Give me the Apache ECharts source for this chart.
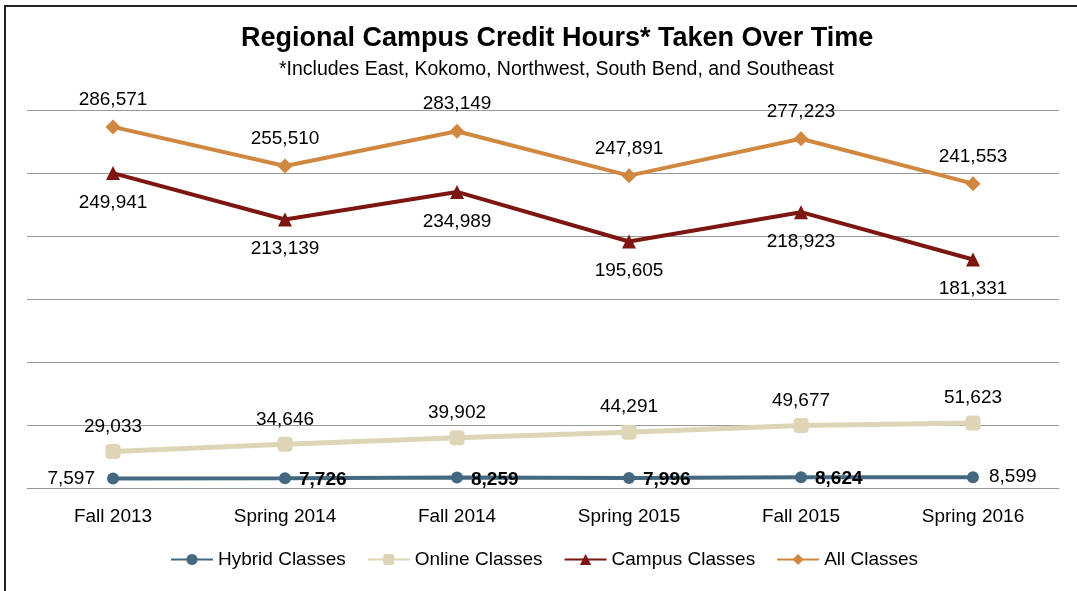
<!DOCTYPE html>
<html lang="en">
<head>
    <meta charset="UTF-8">
    <title>Regional Campus Credit Hours</title>
    <style>
        body, html {
            margin: 0;
            padding: 0;
            background: #fff;
        }
        #frame {
            position: absolute;
            left: 4px;
            top: 5px;
            width: 1090px;
            height: 600px;
            border-left: 2px solid #222;
            border-top: 2px solid #222;
        }
        #main {
            position: absolute;
            left: 0;
            top: 0;
            width: 1077px;
            height: 591px;
        }
    </style>
</head>
<body>
<div id="frame"></div>
<div id="main"></div>
<script src="https://cdn.jsdelivr.net/npm/echarts@6/dist/echarts.min.js"></script>
<script>
    var terms = ['Fall 2013', 'Spring 2014', 'Fall 2014', 'Spring 2015', 'Fall 2015', 'Spring 2016'];
    var hybridClasses = [7597, 7726, 8259, 7996, 8624, 8599];
    var onlineClasses = [29033, 34646, 39902, 44291, 49677, 51623];
    var campusClasses = [249941, 213139, 234989, 195605, 218923, 181331];
    var allClasses = [286571, 255510, 283149, 247891, 277223, 241553];

    var font = 'Liberation Sans';
    function fmt(v) {
        return v.toLocaleString('en-US');
    }

    // hybrid labels: first one on the left, the middle ones bold on the right
    var hybridData = hybridClasses.map(function (v, i) {
        var lab = {position: 'right', distance: 10};
        if (i === 0) lab = {position: 'left', distance: 12};
        else if (i < hybridClasses.length - 1) lab = {position: 'right', distance: 8, fontWeight: 'bold', offset: [0, 2]};
        return {value: v, label: lab};
    });

    var myChart = echarts.init(document.getElementById('main'));
    myChart.setOption({
        backgroundColor: 'transparent',
        animation: false,
        textStyle: {fontFamily: font},
        title: [
            {
                text: 'Regional Campus Credit Hours* Taken Over Time',
                left: 236,
                top: 20,
                textStyle: {fontSize: 27, fontWeight: 'bold', color: '#000', fontFamily: font}
            },
            {
                text: '*Includes East, Kokomo, Northwest, South Bend, and Southeast',
                left: 274,
                top: 55,
                textStyle: {fontSize: 19.5, fontWeight: 'normal', color: '#000', fontFamily: font}
            }
        ],
        legend: {
            bottom: 17,
            left: 165,
            itemWidth: 42,
            itemHeight: 14,
            itemGap: 21,
            textStyle: {fontSize: 19, color: '#000', fontFamily: font},
            data: ['Hybrid Classes', 'Online Classes', 'Campus Classes', 'All Classes']
        },
        grid: {left: 27, right: 18, top: 110, bottom: 103, containLabel: false},
        xAxis: {
            type: 'category',
            data: terms,
            axisLine: {lineStyle: {color: '#999', width: 1}},
            axisTick: {show: false},
            axisLabel: {fontSize: 19, color: '#000', margin: 19, fontFamily: font}
        },
        yAxis: {
            type: 'value',
            min: 0,
            max: 300000,
            interval: 50000,
            axisLabel: {show: false},
            axisLine: {show: false},
            axisTick: {show: false},
            splitLine: {lineStyle: {color: '#999', width: 1}}
        },
        series: [
            {
                name: 'Hybrid Classes',
                type: 'line',
                data: hybridData,
                color: '#44687f',
                symbol: 'circle',
                symbolSize: 12,
                lineStyle: {width: 4},
                label: {show: true, fontSize: 19, color: '#000', formatter: function (p) { return fmt(p.value); }}
            },
            {
                name: 'Online Classes',
                type: 'line',
                data: onlineClasses,
                color: '#ddd5b5',
                symbol: 'roundRect',
                symbolSize: 15,
                lineStyle: {width: 5},
                label: {show: true, position: 'top', distance: 8, fontSize: 19, color: '#000', formatter: function (p) { return fmt(p.value); }}
            },
            {
                name: 'Campus Classes',
                type: 'line',
                data: campusClasses,
                color: '#7d1510',
                symbol: 'triangle',
                symbolSize: 14,
                lineStyle: {width: 4},
                label: {show: true, position: 'bottom', distance: 13, fontSize: 19, color: '#000', formatter: function (p) { return fmt(p.value); }}
            },
            {
                name: 'All Classes',
                type: 'line',
                data: allClasses,
                color: '#d0873f',
                symbol: 'diamond',
                symbolSize: 15,
                lineStyle: {width: 4},
                label: {show: true, position: 'top', distance: 10, fontSize: 19, color: '#000', formatter: function (p) { return fmt(p.value); }}
            }
        ]
    });
</script>
</body>
</html>
